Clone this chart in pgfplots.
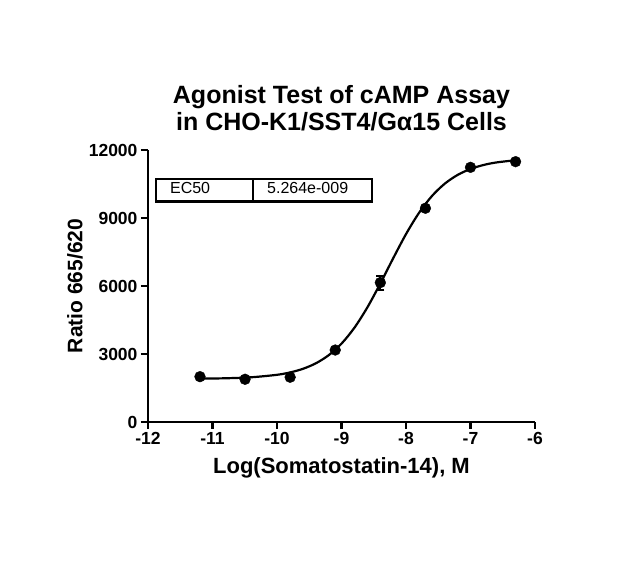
\documentclass[border=0pt]{standalone}
\usepackage{fontspec}
\setmainfont{Liberation Sans}
\usepackage{pgfplots}
\pgfplotsset{compat=1.18}

\begin{document}
\begin{tikzpicture}
% page = 639 x 572 (1pt per pixel of the reference)
\path[use as bounding box] (-148pt,-150pt) rectangle (491pt,422pt);
\begin{axis}[
    scale only axis,
    width=387pt, height=272pt,
    xmin=-12, xmax=-6,
    ymin=0, ymax=12000,
    xtick={-12,-11,...,-6},
    ytick={0,3000,6000,9000,12000},
    axis x line=bottom, axis y line=left,
    axis line style={-, line width=2.4pt},
    tick style={line width=2.4pt, black},
    tick align=outside,
    major tick length=7pt,
    scaled ticks=false,
    /pgf/number format/1000 sep={},
    /pgf/number format/assume math mode=true,
    ticklabel style={font=\bfseries\fontsize{17.5}{17.5}\selectfont},
    clip=false,
    title={Agonist Test of cAMP Assay\\ in CHO-K1/SST4/Gα15 Cells},
    title style={font=\bfseries\fontsize{25}{26.5}\selectfont, align=center,
        at={(rel axis cs:0.5,1)}, anchor=south, inner sep=0pt, yshift=13pt},
    xlabel={Log(Somatostatin-14), M},
    xlabel style={font=\bfseries\fontsize{22}{22}\selectfont,
        at={(rel axis cs:0.5,-0.1875)}, anchor=base, inner sep=0pt},
    ylabel={Ratio 665/620},
    ylabel style={font=\bfseries\fontsize{21}{21}\selectfont,
        at={(rel axis cs:-0.168,0.5)}, anchor=south, inner sep=0pt},
]

% fitted curve
\addplot[black, line width=2.2pt, smooth, no marks] coordinates {
(-11.2,1912) (-10.8,1929) (-10.4,1973) (-10.0,2082) (-9.8,2185)
(-9.6,2344) (-9.4,2586) (-9.2,2944) (-9.0,3457) (-8.8,4157)
(-8.6,5051) (-8.4,6101) (-8.2,7216) (-8.0,8289) (-7.8,9220)
(-7.6,9962) (-7.4,10512) (-7.2,10900) (-7.0,11163) (-6.8,11337)
(-6.6,11450) (-6.3,11549)
};

% measured points
\addplot[black, only marks, mark=*, mark size=5.4pt,
    error bars/.cd, y dir=both, y explicit,
    error bar style={line width=2pt}, error mark options={line width=2pt, mark size=4pt, rotate=90}]
coordinates {
(-11.194,2000) +- (0,60)
(-10.495,1885) +- (0,60)
(-9.796,1975) +- (0,60)
(-9.097,3175) +- (0,80)
(-8.398,6150) +- (0,310)
(-7.699,9430) +- (0,100)
(-7.000,11235) +- (0,80)
(-6.301,11485) +- (0,60)
};

% EC50 table
\draw[line width=2.4pt] (axis cs:-11.88,9719) rectangle (axis cs:-8.53,10720);
\draw[line width=2.4pt] (axis cs:-10.37,9719) -- (axis cs:-10.37,10720);
\node[anchor=base west, inner sep=0pt, font=\fontsize{16}{16}\selectfont]
    at (axis cs:-11.66,10059) {EC50};
\node[anchor=base west, inner sep=0pt, font=\fontsize{16}{16}\selectfont]
    at (axis cs:-10.155,10059) {5.264e-009};
\end{axis}
\end{tikzpicture}
\end{document}
